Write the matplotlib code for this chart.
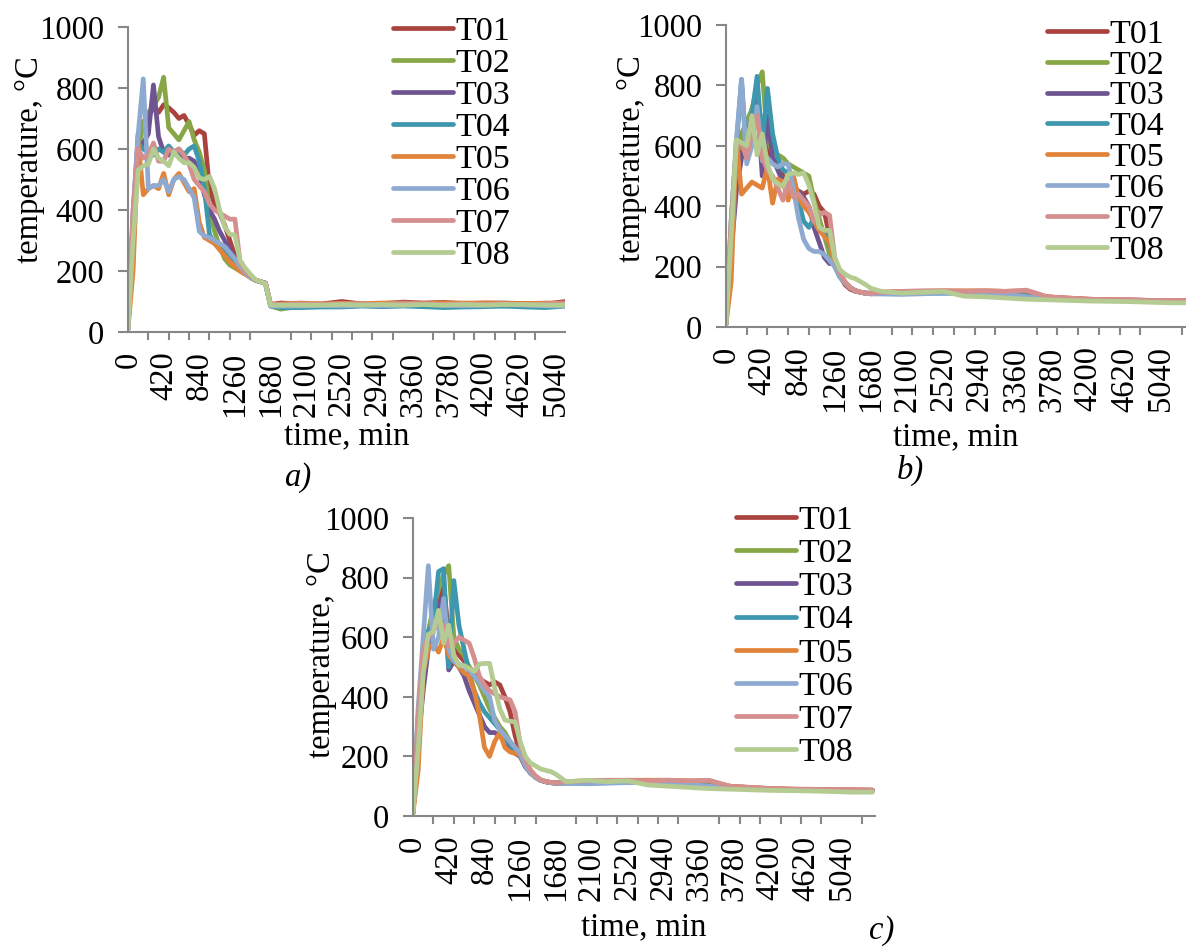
import matplotlib
matplotlib.use('Agg')
import matplotlib.pyplot as plt
from matplotlib.ticker import MultipleLocator, FixedLocator

plt.rcParams['font.family'] = ['Liberation Serif', 'DejaVu Serif']
plt.rcParams['font.size'] = 23.5

# time grid, min
t_min = [0, 60, 120, 180, 240, 300, 360, 420, 480, 540, 600, 660, 720, 780, 840,
         900, 960, 1020, 1080, 1140, 1200, 1260, 1320, 1380, 1440, 1500, 1560, 1620, 1680,
         1800, 2040, 2280, 2520, 2760, 3000, 3240, 3480, 3720, 3960, 4200, 4440, 4680,
         4920, 5160, 5400]

names = ['T01', 'T02', 'T03', 'T04', 'T05', 'T06', 'T07', 'T08']
colors = ['#AA433F', '#87A746', '#6E5591', '#3D97AE', '#E2833A', '#8FAAD1', '#D48F8E', '#B4CB92']

# ---- panel a)
a_T01 = [10, 380, 650, 690, 700, 740, 720, 745, 735, 720, 700, 710, 680, 645, 660, 650, 470, 420, 390, 350, 300, 250, 215, 195, 180, 170, 165, 160, 90,
         95, 92, 92, 100, 92, 93, 98, 95, 97, 93, 95, 95, 93, 92, 100, 95]
a_T02 = [10, 360, 600, 680, 720, 740, 770, 835, 670, 650, 630, 660, 690, 630, 590, 530, 400, 330, 280, 240, 220, 210, 200, 190, 180, 170, 165, 160, 85,
         75, 85, 88, 85, 88, 90, 90, 88, 85, 90, 90, 85, 88, 90, 88, 90]
a_T03 = [10, 330, 600, 620, 650, 810, 640, 590, 580, 590, 580, 570, 570, 560, 520, 450, 400, 370, 330, 300, 270, 240, 210, 195, 180, 170, 165, 160, 90,
         88, 90, 88, 92, 90, 90, 88, 90, 92, 90, 88, 92, 88, 90, 92, 90]
a_T04 = [10, 350, 620, 600, 590, 580, 600, 590, 610, 590, 600, 580, 600, 610, 560, 470, 320, 290, 280, 270, 250, 230, 210, 195, 180, 170, 165, 160, 85,
         80, 80, 82, 82, 85, 83, 85, 83, 80, 82, 83, 85, 82, 80, 85, 83]
a_T05 = [10, 200, 620, 450, 470, 480, 470, 520, 450, 500, 520, 490, 460, 470, 360, 310, 300, 290, 270, 250, 230, 215, 200, 190, 180, 170, 165, 160, 90,
         92, 95, 92, 94, 93, 95, 95, 93, 95, 95, 95, 94, 93, 95, 94, 92]
a_T06 = [10, 400, 650, 830, 470, 480, 480, 500, 460, 500, 510, 500, 470, 440, 330, 315, 310, 300, 290, 280, 260, 240, 215, 195, 180, 170, 165, 160, 85,
         85, 85, 87, 85, 88, 86, 88, 90, 88, 86, 88, 90, 88, 86, 85, 88]
a_T07 = [10, 400, 600, 570, 580, 620, 560, 560, 600, 590, 600, 580, 550, 500, 480, 460, 420, 400, 390, 380, 370, 370, 230, 200, 185, 170, 165, 160, 90,
         90, 92, 90, 92, 92, 90, 94, 92, 90, 92, 90, 92, 90, 92, 95, 90]
a_T08 = [10, 300, 530, 545, 550, 600, 570, 560, 545, 590, 570, 555, 555, 540, 505, 500, 510, 470, 400, 345, 320, 318, 235, 210, 190, 172, 165, 158, 88,
         88, 88, 88, 90, 88, 90, 88, 90, 88, 90, 88, 90, 90, 88, 88, 90]

# ---- panel b)
b_T01 = [10, 300, 550, 620, 650, 720, 770, 650, 580, 560, 540, 500, 470, 450, 450, 440, 450, 440, 400, 380, 300, 220, 170, 140, 125, 118, 115, 112, 112,
         115, 115, 118, 118, 118, 115, 115, 110, 100, 95, 92, 90, 90, 88, 88, 87]
b_T02 = [10, 320, 560, 640, 680, 720, 800, 845, 620, 580, 570, 560, 540, 530, 520, 510, 500, 420, 360, 300, 240, 200, 165, 145, 130, 120, 115, 112, 112,
         112, 115, 115, 115, 115, 112, 110, 108, 98, 93, 90, 88, 87, 86, 85, 85]
b_T03 = [10, 250, 450, 560, 620, 700, 760, 500, 700, 560, 520, 480, 470, 460, 450, 430, 400, 330, 280, 230, 210, 210, 170, 145, 130, 120, 115, 112, 110,
         112, 112, 115, 116, 115, 112, 110, 105, 97, 93, 90, 88, 87, 86, 85, 85]
b_T04 = [10, 350, 600, 820, 560, 700, 830, 600, 790, 640, 560, 520, 510, 500, 420, 350, 330, 360, 320, 320, 270, 220, 175, 145, 130, 120, 115, 112, 110,
         110, 110, 112, 112, 112, 110, 108, 105, 95, 92, 90, 88, 87, 86, 85, 85]
b_T05 = [10, 150, 620, 440, 460, 480, 470, 460, 530, 410, 490, 480, 420, 500, 430, 400, 380, 350, 320, 300, 280, 210, 170, 145, 130, 120, 115, 112, 110,
         115, 118, 118, 120, 120, 120, 118, 120, 100, 96, 92, 90, 88, 88, 87, 86]
b_T06 = [10, 350, 620, 820, 540, 600, 730, 550, 560, 540, 530, 540, 540, 460, 360, 290, 260, 250, 250, 240, 220, 200, 165, 145, 130, 120, 115, 112, 110,
         110, 108, 110, 112, 112, 110, 108, 100, 95, 92, 90, 88, 87, 86, 85, 85]
b_T07 = [10, 350, 600, 610, 560, 640, 700, 560, 520, 500, 460, 420, 480, 430, 440, 420, 400, 350, 370, 380, 370, 230, 180, 150, 130, 120, 115, 112, 112,
         115, 118, 120, 120, 118, 120, 118, 122, 100, 96, 92, 90, 90, 88, 88, 87]
b_T08 = [10, 300, 620, 610, 600, 700, 570, 640, 540, 490, 475, 465, 505, 510, 505, 510, 470, 410, 330, 320, 320, 230, 190, 175, 165, 160, 150, 140, 128,
         118, 112, 115, 118, 102, 100, 96, 92, 90, 88, 86, 85, 84, 82, 80, 80]

# ---- panel c)
c_T01 = [10, 280, 520, 600, 650, 720, 780, 600, 560, 540, 520, 500, 480, 460, 450, 440, 450, 440, 400, 350, 270, 210, 170, 145, 130, 120, 115, 112, 112,
         115, 117, 118, 118, 118, 116, 115, 112, 100, 95, 92, 90, 89, 88, 88, 87]
c_T02 = [10, 300, 520, 620, 700, 760, 810, 840, 600, 560, 540, 500, 470, 440, 400, 360, 330, 300, 280, 250, 230, 210, 170, 145, 130, 120, 115, 112, 110,
         112, 115, 115, 115, 115, 112, 110, 108, 98, 93, 90, 88, 87, 86, 85, 85]
c_T03 = [10, 250, 420, 560, 620, 700, 740, 490, 520, 500, 470, 420, 380, 340, 300, 280, 280, 270, 250, 230, 210, 200, 165, 145, 130, 120, 115, 112, 110,
         112, 112, 115, 116, 115, 112, 110, 105, 97, 93, 90, 88, 87, 86, 85, 85]
c_T04 = [10, 330, 560, 620, 650, 820, 830, 500, 790, 640, 560, 480, 420, 380, 350, 330, 310, 290, 260, 240, 220, 205, 170, 145, 130, 120, 115, 112, 110,
         110, 110, 112, 112, 112, 110, 108, 105, 95, 92, 90, 88, 87, 86, 85, 85]
c_T05 = [10, 150, 480, 560, 580, 550, 600, 540, 520, 500, 480, 470, 420, 340, 230, 200, 250, 280, 230, 215, 210, 205, 170, 145, 130, 120, 115, 112, 110,
         115, 118, 118, 120, 120, 120, 118, 118, 100, 96, 92, 90, 88, 88, 87, 86]
c_T06 = [10, 360, 600, 840, 560, 600, 730, 560, 520, 510, 500, 490, 470, 450, 420, 400, 320, 290, 270, 250, 230, 210, 170, 145, 130, 120, 115, 112, 110,
         110, 108, 110, 112, 112, 110, 106, 100, 95, 92, 90, 88, 87, 86, 85, 85]
c_T07 = [10, 330, 560, 600, 620, 650, 640, 570, 580, 600, 590, 580, 530, 470, 440, 420, 410, 400, 395, 390, 350, 240, 190, 155, 135, 122, 116, 113, 112,
         115, 118, 120, 120, 118, 120, 118, 120, 100, 96, 92, 90, 90, 88, 88, 87]
c_T08 = [10, 220, 480, 610, 618, 690, 580, 640, 540, 505, 505, 495, 485, 510, 512, 512, 430, 360, 322, 318, 316, 250, 200, 178, 168, 158, 153, 149, 140,
         115, 120, 115, 118, 104, 100, 96, 92, 90, 88, 86, 85, 84, 82, 80, 80]

panel_a = [a_T01, a_T02, a_T03, a_T04, a_T05, a_T06, a_T07, a_T08]
panel_b = [b_T01, b_T02, b_T03, b_T04, b_T05, b_T06, b_T07, b_T08]
panel_c = [c_T01, c_T02, c_T03, c_T04, c_T05, c_T06, c_T07, c_T08]

x_labels = list(range(0, 5041, 420))
y_ticks = [0, 200, 400, 600, 800, 1000]

W, H = 1186, 948
axis_grey = '#878787'


def px_rect(left, right, top, bottom):
    return [left / W, 1 - bottom / H, (right - left) / W, (bottom - top) / H]


def draw_panel(rect, series, xmax, ylab_xy, leg_xy, leg_sp, xlab_pad):
    ax = fig.add_axes(px_rect(*rect))
    lines = []
    for vals, nm, col in zip(series, names, colors):
        ln, = ax.plot(t_min, vals, color=col, lw=3.4, label=nm,
                      solid_joinstyle='round', solid_capstyle='round')
        lines.append(ln)
    ax.set_xlim(0, xmax)
    ax.set_ylim(0, 1000)
    for s in ['top', 'right']:
        ax.spines[s].set_visible(False)
    for s in ['left', 'bottom']:
        ax.spines[s].set_color(axis_grey)
        ax.spines[s].set_linewidth(1.5)
    ax.set_yticks(y_ticks)
    ax.tick_params(axis='y', direction='out', length=7, width=1.5, color=axis_grey, pad=10)
    ax.xaxis.set_major_locator(FixedLocator(x_labels))
    ax.set_xticklabels([str(v) for v in x_labels], rotation=90, va='top', ha='center')
    ax.xaxis.set_minor_locator(MultipleLocator(240))
    ax.tick_params(axis='x', which='major', length=0, pad=14)
    ax.tick_params(axis='x', which='minor', direction='out', length=5.5, width=1.5, color=axis_grey)
    ax.set_xlabel('time, min', labelpad=xlab_pad)
    ax.set_ylabel('temperature, °C')
    ax.yaxis.set_label_coords(*ylab_xy)
    ax.legend(handles=lines, loc='upper left', bbox_to_anchor=(leg_xy[0] / W, 1 - leg_xy[1] / H),
              bbox_transform=fig.transFigure, frameon=False, handlelength=1.75,
              handletextpad=0.08, labelspacing=leg_sp, borderpad=0, borderaxespad=0,
              fontsize=24.5)
    return ax


fig = plt.figure(figsize=(W / 100, H / 100), dpi=100)

draw_panel((128, 565, 27, 332), panel_a, 5150, (-0.19, 0.565), (393, 16), 0.035, 3)
draw_panel((726, 1186, 25, 327), panel_b, 5330, (-0.172, 0.556), (1047, 19), 0.0, 7)
draw_panel((413, 875, 518, 816), panel_c, 5430, (-0.165, 0.54), (736, 505), 0.07, 8)

fig.text(298 / W, 1 - 478 / H, 'a)', style='italic', ha='center', va='center')
fig.text(910 / W, 1 - 470 / H, 'b)', style='italic', ha='center', va='center')
fig.text(882 / W, 1 - 946 / H, 'c)', style='italic', ha='center', va='bottom')

fig.savefig('out.png', dpi=100)
